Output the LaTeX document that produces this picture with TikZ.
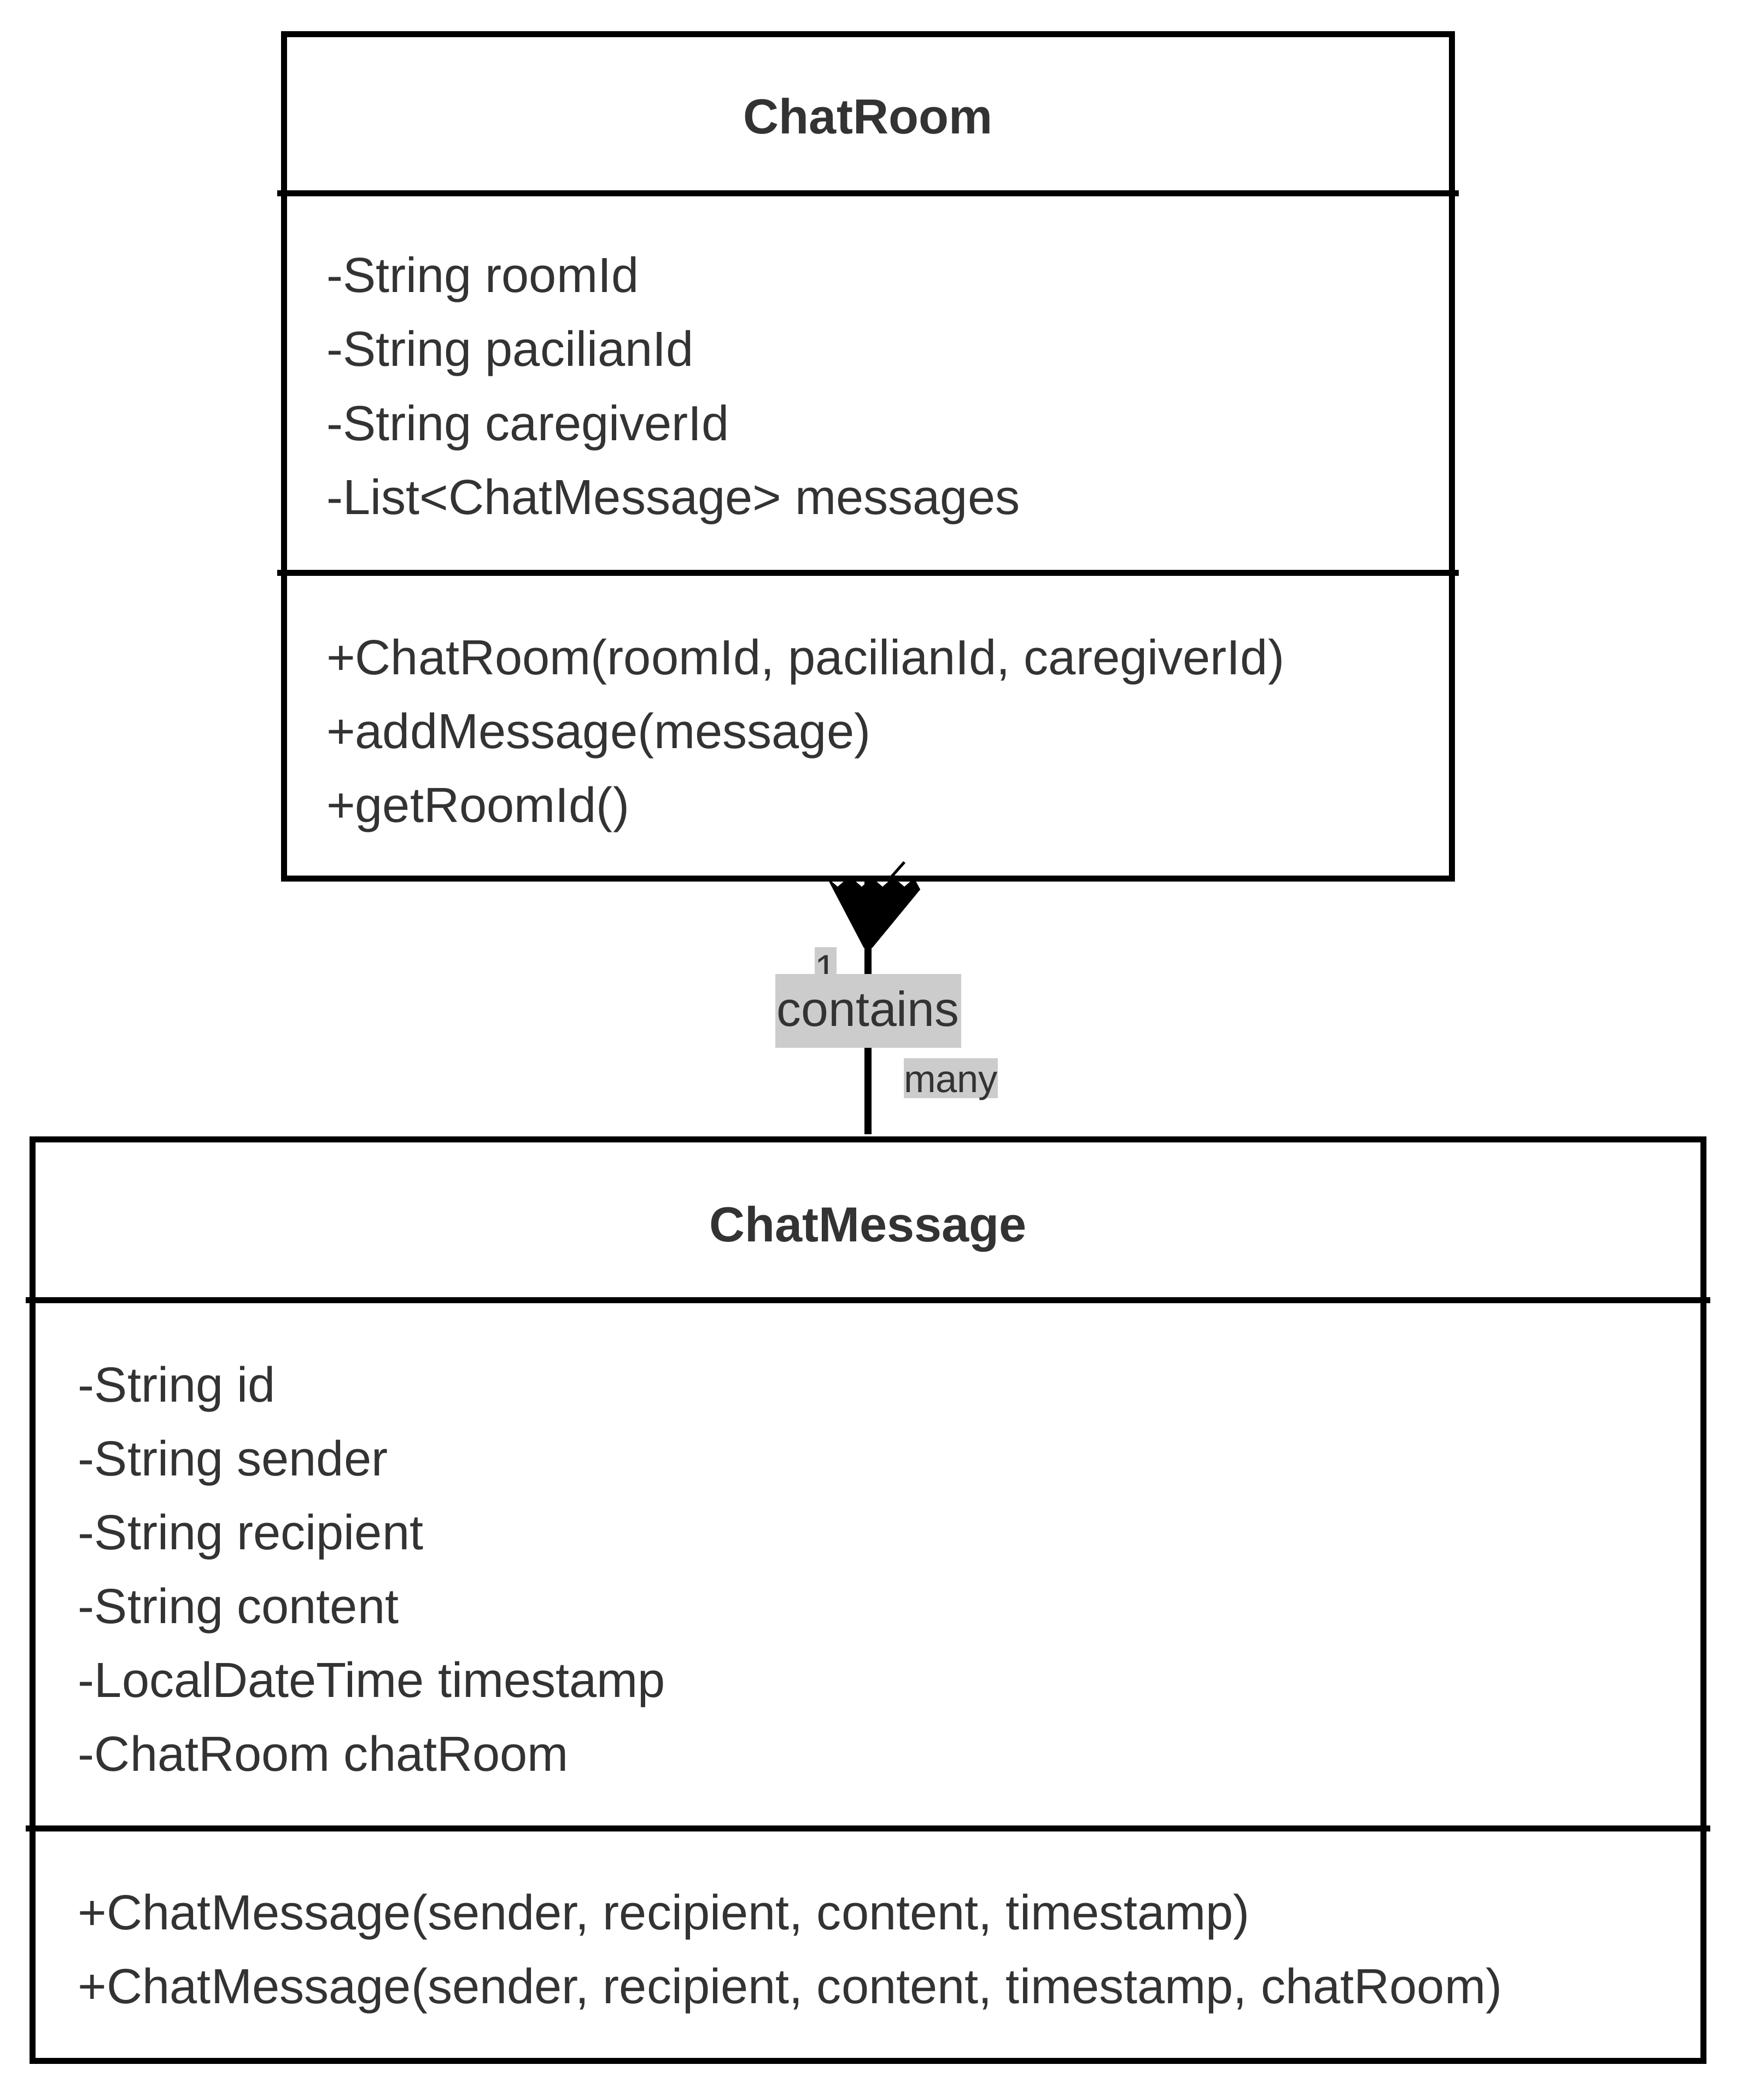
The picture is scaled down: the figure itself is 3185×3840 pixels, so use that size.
\documentclass[tikz,border=0pt]{standalone}
\usepackage{fontspec}
\setmainfont{Liberation Sans}
\usepackage{tikz}
\definecolor{ink}{HTML}{333333}
\definecolor{labelbg}{HTML}{CCCCCC}
\tikzstyle{classbox} = [rectangle, draw=black, line width=0.11cm, outer sep=0, inner sep=0]
\tikzstyle{classname} = [anchor=base, inner sep=0, text=ink, font=\fontsize{25.6}{30}\selectfont\bfseries]
\tikzstyle{members} = [anchor=base west, inner sep=0, align=left, text=ink, font=\fontsize{25.65}{38.4}\selectfont]
\tikzstyle{divider} = [line width=0.11cm, shorten <=-0.12cm, shorten >=-0.12cm]
\tikzstyle{assoc} = [line width=0.13cm, shorten >=0.1cm]
\tikzstyle{linklabel} = [anchor=base, inner ysep=0, inner xsep=0.03cm, fill=labelbg, text=ink, font=\fontsize{25.5}{38.4}\selectfont, text height=27.3pt, text depth=11.1pt]
\tikzstyle{card} = [anchor=base, inner sep=0, fill=labelbg, text=ink, font=\fontsize{20}{24}\selectfont, text height=18pt, text depth=3pt]

\begin{document}
\begin{tikzpicture}[x=0.01cm, y=-0.01cm]
\useasboundingbox[fill=white] (0,0) rectangle (3185,3840);

\node(room)[classbox, minimum width=21.35cm, minimum height=15.43cm] at (1587.5,834.5) {};
\node(msg)[classbox, below of=room, node distance=20.905cm, minimum width=30.55cm, minimum height=16.84cm] {};

\draw[divider] ([yshift=-2.91cm]room.north west) -- ([yshift=-2.91cm]room.north east);
\draw[divider] ([yshift=-9.84cm]room.north west) -- ([yshift=-9.84cm]room.north east);
\draw[divider] ([yshift=-2.94cm]msg.north west) -- ([yshift=-2.94cm]msg.north east);
\draw[divider] ([yshift=-12.59cm]msg.north west) -- ([yshift=-12.59cm]msg.north east);

% base of a multi-line node is its last line
\node(roomname)[classname] at ([yshift=-1.82cm]room.north) {ChatRoom};
\node(roomattr)[members] at ([xshift=0.77cm, yshift=-8.77cm]room.north west) {-String roomId\\-String pacilianId\\-String caregiverId\\-List<ChatMessage> messages};
\node(roomops)[members] at ([xshift=0.77cm, yshift=-14.40cm]room.north west) {+ChatRoom(roomId, pacilianId, caregiverId)\\+addMessage(message)\\+getRoomId()};

\node(msgname)[classname] at ([yshift=-1.87cm]msg.north) {ChatMessage};
\node(msgattr)[members] at ([xshift=0.83cm, yshift=-11.545cm]msg.north west) {-String id\\-String sender\\-String recipient\\-String content\\-LocalDateTime timestamp\\-ChatRoom chatRoom};
\node(msgops)[members] at ([xshift=0.83cm, yshift=-15.79cm]msg.north west) {+ChatMessage(sender, recipient, content, timestamp)\\+ChatMessage(sender, recipient, content, timestamp, chatRoom)};

\draw[assoc] (room.south) -- node[card, pos=0.396, xshift=-0.775cm]{1} node[linklabel, pos=0.566]{contains} node[card, pos=0.82, xshift=1.515cm]{many} (msg.north);

% crow's foot at the ChatRoom end
\fill[shift={(room.south)}] (-71.5,5) -- (-7.5,127) -- (7.5,127) -- (95.5,20) -- (87.5,5) -- (78,5) -- (66.5,15) -- (55,5) -- (38,5) -- (26.5,15) -- (15,5) -- (0,5) -- (-11.5,15) -- (-23,5) -- (-44,5) -- (-55.5,15) -- (-67,5) -- cycle;
\draw[shift={(room.south)}, line width=0.05cm] (43.5,-4) -- (66.5,-30);
\end{tikzpicture}
\end{document}
